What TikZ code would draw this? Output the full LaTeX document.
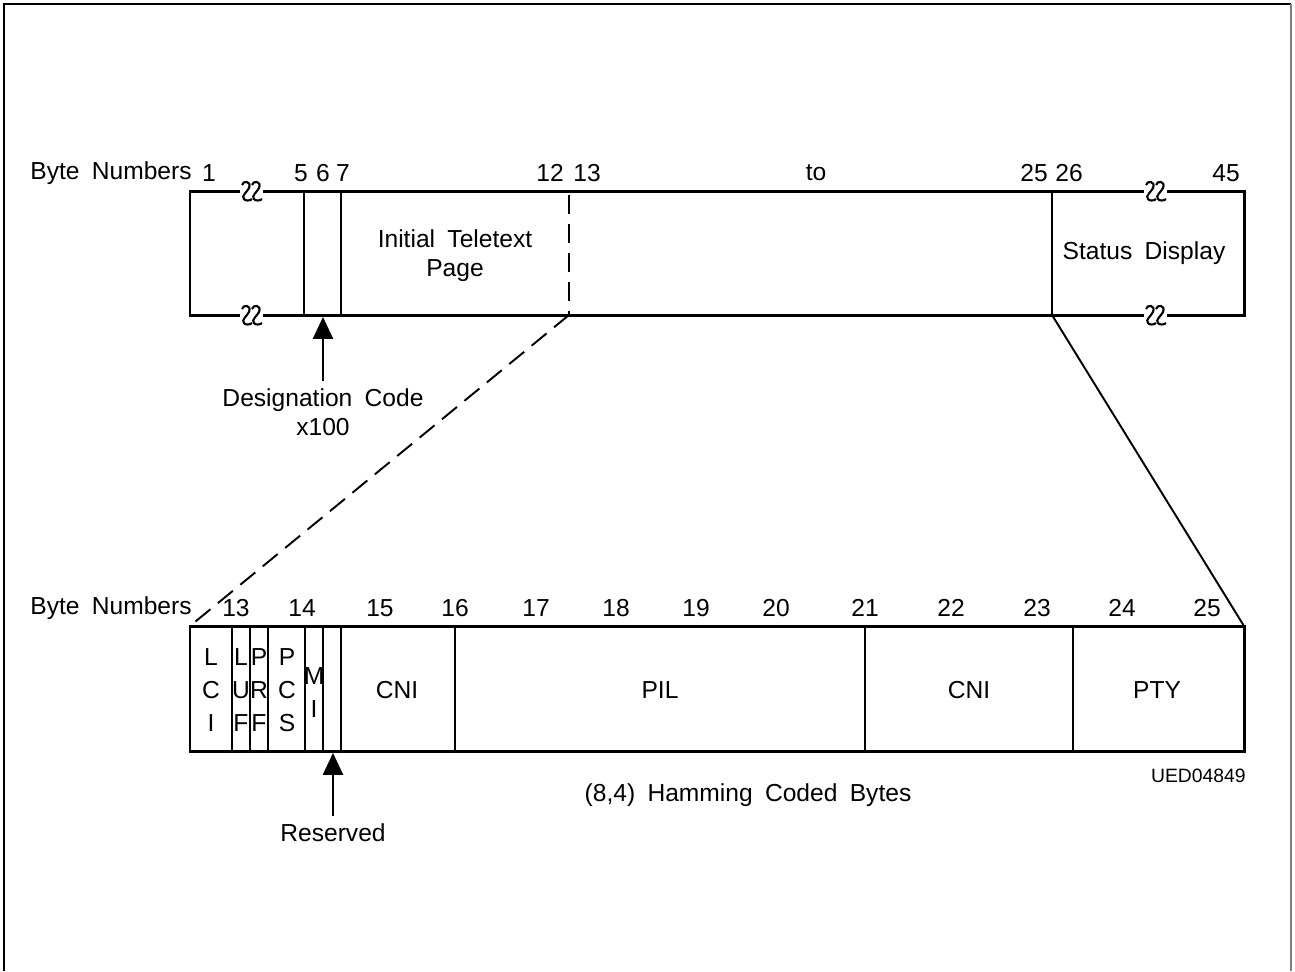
\documentclass[tikz,border=0pt]{standalone}
\usepackage{fontspec}
\setmainfont{Liberation Sans}[WordSpace=1.8]
\usetikzlibrary{arrows.meta}
\begin{document}
\begin{tikzpicture}[x=0.02cm,y=-0.02cm,
  lbl/.style={inner sep=0pt,font=\fontsize{14}{16.5}\selectfont,align=center},
  stack/.style={inner sep=0pt,font=\fontsize{14}{18.8}\selectfont,align=center},
  small/.style={inner sep=0pt,font=\fontsize{11}{13}\selectfont},
  outer/.style={line width=1.7pt},
  inner/.style={line width=1.1pt},
  dashline/.style={line width=1.1pt,dash pattern=on 11pt off 5.5pt},
  pointer/.style={line width=1.1pt,-{Triangle[length=12.5pt,width=11.5pt]}},
  brk/.pic={
    \fill[white] (-7,-3) rectangle (16,3);
    \foreach \dx in {0,10}
      \draw[line width=1.2pt,xshift=\dx*0.02cm] (-5,-6) .. controls (-4,-11) and (5,-10) .. (2,-3)
        .. controls (0,1) and (-6,5) .. (-3,8) .. controls (-2,10) and (3,10) .. (5,8);
  }]
\useasboundingbox (0,0) rectangle (1295,971);
% frame
\draw[line width=1.2pt] (4,971) -- (4,4) -- (1291,4);
\draw[line width=1.2pt,gray] (1291,4) -- (1291,971);

% top bar
\coordinate (tl) at (190,191);
\coordinate (br) at (1244,315);
\draw[outer] (tl) rectangle (br);
\draw[inner] (304,191) -- (304,315);
\draw[inner] (341,191) -- (341,315);
\draw[dashline] (569,195) -- (569,315);
\draw[inner] (1052,191) -- (1052,315);
\pic at (247,191) {brk};
\pic at (247,315) {brk};
\pic at (1151,191) {brk};
\pic at (1151,315) {brk};

\node[lbl] (bn1) at (111,173) {Byte Numbers};
\node[lbl] at (209,173) {1};
\node[lbl] at (301,173) {5};
\node[lbl] at (323,173) {6};
\node[lbl] at (343,173) {7};
\node[lbl] at (550,173) {12};
\node[lbl] at (587,173) {13};
\node[lbl] at (816,173) {to};
\node[lbl] at (1034,173) {25};
\node[lbl] at (1069,173) {26};
\node[lbl] at (1226,173) {45};

\node[lbl] (itp) at (455,256) {Initial Teletext\\Page};
\node[lbl] (sd) at (1144,253) {Status Display};

% designation code
\coordinate (dc) at (323,317);
\coordinate (dcs) at (323,381);
\node[lbl] (desig) at (323,412) {Designation Code\\x100};
\draw[pointer] (dcs) -- (dc);

% zoom lines
\coordinate (zl) at (569,315);
\coordinate (zr) at (1052,315);
\coordinate (bl) at (190,626);
\coordinate (bx) at (1244,626);
\draw[dashline] (zl) -- (bl);
\draw[inner] (zr) -- (bx);

% bottom bar
\draw[outer] (bl) rectangle (1244,751);
\foreach \x in {232,250,268,305,323,341,455,865,1073}
  \draw[inner] (\x,626) -- (\x,751);

\node[lbl] (bn2) at (111,608) {Byte Numbers};
\foreach \x/\n in {236/13,302/14,380/15,455/16,536/17,616/18,696/19,776/20,865/21,951/22,1037/23,1122/24,1207/25}
  \node[lbl] at (\x,608) {\n};

\node[stack] (lci) at (211,690) {L\\C\\I};
\node[stack] (luf) at (241,690) {L\\U\\F};
\node[stack] (prf) at (259,690) {P\\R\\F};
\node[stack] (pcs) at (287,690) {P\\C\\S};
\node[stack] (mi) at (314,693) {M\\I};
\node[lbl] (cni1) at (397,690) {CNI};
\node[lbl] (pil) at (660,690) {PIL};
\node[lbl] (cni2) at (969,690) {CNI};
\node[lbl] (pty) at (1157,690) {PTY};

% reserved
\coordinate (rs) at (333,753);
\coordinate (rss) at (333,816);
\node[lbl] (res) at (333,833) {Reserved};
\draw[pointer] (rss) -- (rs);

\node[small,anchor=east] (ued) at (1246,776) {UED04849};
\node[lbl] (ham) at (748,795) {(8,4) Hamming Coded Bytes};
\end{tikzpicture}
\end{document}
